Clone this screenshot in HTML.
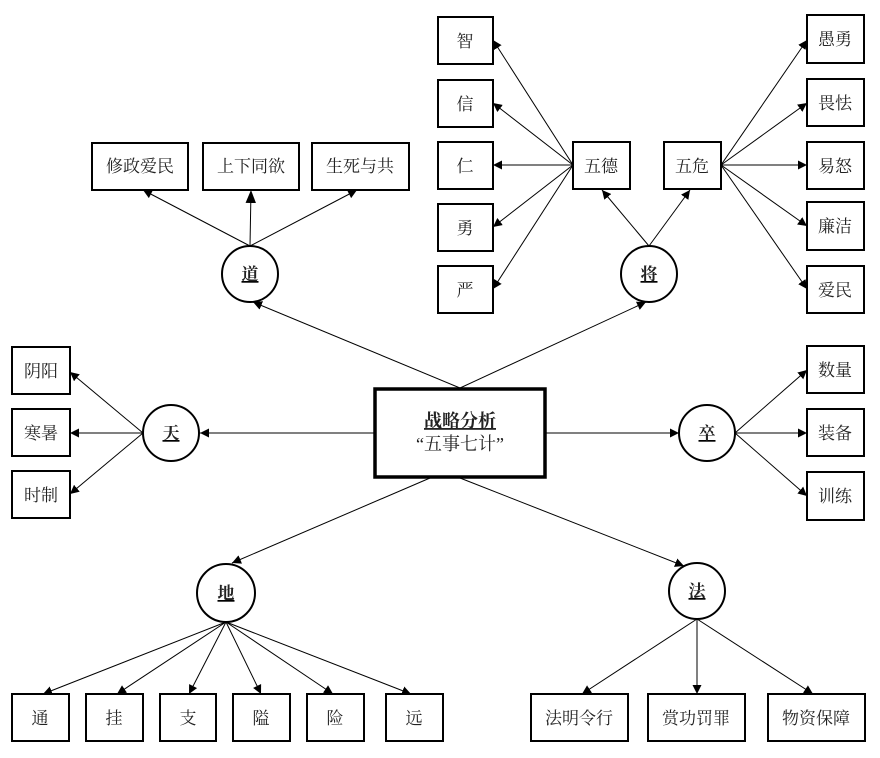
<!DOCTYPE html>
<html><head><meta charset="utf-8"><style>
html,body{margin:0;padding:0;background:#fff;}
svg{display:block;}
text{font-family:"Liberation Serif","Noto Serif CJK SC","Noto Sans CJK SC",serif;fill:#222;}
</style></head><body>
<svg width="880" height="758" viewBox="0 0 880 758" xmlns="http://www.w3.org/2000/svg">
<defs>
<marker id="a" viewBox="0 0 10 10" refX="10" refY="5" markerWidth="9" markerHeight="9" orient="auto" markerUnits="userSpaceOnUse"><path d="M0,0L10,5L0,10z" fill="#000"/></marker>
<marker id="b" viewBox="0 0 10 10" refX="10" refY="5" markerWidth="13" markerHeight="13" orient="auto" markerUnits="userSpaceOnUse"><path d="M0,1L10,5L0,9z" fill="#000"/></marker>
</defs>
<g stroke="#000" stroke-width="1" fill="none" marker-end="url(#a)">
<line x1="460" y1="388" x2="253" y2="302"/>
<line x1="460" y1="388" x2="646" y2="302"/>
<line x1="374" y1="433" x2="200" y2="433"/>
<line x1="546" y1="433" x2="679" y2="433"/>
<line x1="430" y1="478" x2="232" y2="563"/>
<line x1="460" y1="478" x2="684" y2="566"/>
<line x1="250" y1="246" x2="143" y2="190"/>
<line x1="250" y1="246" x2="251" y2="190" marker-end="url(#b)"/>
<line x1="250" y1="246" x2="357" y2="190"/>
<line x1="143" y1="433" x2="70" y2="372"/>
<line x1="143" y1="433" x2="70" y2="433"/>
<line x1="143" y1="433" x2="70" y2="494"/>
<line x1="649" y1="246" x2="602" y2="190"/>
<line x1="649" y1="246" x2="690" y2="190"/>
<line x1="573" y1="165" x2="493" y2="40"/>
<line x1="573" y1="165" x2="493" y2="103"/>
<line x1="573" y1="165" x2="493" y2="165"/>
<line x1="573" y1="165" x2="493" y2="227"/>
<line x1="573" y1="165" x2="493" y2="289"/>
<line x1="721" y1="165" x2="807" y2="40"/>
<line x1="721" y1="165" x2="807" y2="103"/>
<line x1="721" y1="165" x2="807" y2="165"/>
<line x1="721" y1="165" x2="807" y2="226"/>
<line x1="721" y1="165" x2="807" y2="289"/>
<line x1="735" y1="433" x2="807" y2="370"/>
<line x1="735" y1="433" x2="807" y2="433"/>
<line x1="735" y1="433" x2="807" y2="496"/>
<line x1="226" y1="622" x2="43" y2="694"/>
<line x1="226" y1="622" x2="117" y2="694"/>
<line x1="226" y1="622" x2="189" y2="694"/>
<line x1="226" y1="622" x2="261" y2="694"/>
<line x1="226" y1="622" x2="333" y2="694"/>
<line x1="226" y1="622" x2="411" y2="694"/>
<line x1="697" y1="619" x2="582" y2="694"/>
<line x1="697" y1="619" x2="697" y2="694"/>
<line x1="697" y1="619" x2="813" y2="694"/>
</g>
<g stroke="#000" stroke-width="2" fill="#fff">
<circle cx="250" cy="274" r="28"/>
<circle cx="649" cy="274" r="28"/>
<circle cx="171" cy="433" r="28"/>
<circle cx="707" cy="433" r="28"/>
<circle cx="226" cy="593" r="29"/>
<circle cx="697" cy="591" r="28"/>
<rect x="92" y="143" width="96" height="47"/>
<rect x="203" y="143" width="96" height="47"/>
<rect x="312" y="143" width="97" height="47"/>
<rect x="438" y="17" width="55" height="47"/>
<rect x="438" y="80" width="55" height="47"/>
<rect x="438" y="142" width="55" height="47"/>
<rect x="438" y="204" width="55" height="47"/>
<rect x="438" y="266" width="55" height="47"/>
<rect x="573" y="142" width="57" height="47"/>
<rect x="664" y="142" width="57" height="47"/>
<rect x="807" y="15" width="57" height="48"/>
<rect x="807" y="79" width="57" height="47"/>
<rect x="807" y="142" width="57" height="47"/>
<rect x="807" y="202" width="57" height="48"/>
<rect x="807" y="266" width="57" height="47"/>
<rect x="12" y="347" width="58" height="47"/>
<rect x="12" y="409" width="58" height="47"/>
<rect x="12" y="471" width="58" height="47"/>
<rect x="807" y="346" width="57" height="47"/>
<rect x="807" y="409" width="57" height="47"/>
<rect x="807" y="472" width="57" height="48"/>
<rect x="12" y="694" width="57" height="47"/>
<rect x="86" y="694" width="57" height="47"/>
<rect x="160" y="694" width="56" height="47"/>
<rect x="233" y="694" width="57" height="47"/>
<rect x="307" y="694" width="57" height="47"/>
<rect x="386" y="694" width="57" height="47"/>
<rect x="531" y="694" width="97" height="47"/>
<rect x="648" y="694" width="97" height="47"/>
<rect x="768" y="694" width="97" height="47"/>
<rect x="375" y="389" width="170" height="88" stroke-width="3.5"/>
</g>
<g font-size="17" text-anchor="middle">
<text x="140" y="172">修政爱民</text>
<text x="251" y="172">上下同欲</text>
<text x="360" y="172">生死与共</text>
<text x="465" y="47">智</text>
<text x="465" y="110">信</text>
<text x="465" y="172">仁</text>
<text x="465" y="234">勇</text>
<text x="465" y="296">严</text>
<text x="601" y="172">五德</text>
<text x="692" y="172">五危</text>
<text x="835" y="45">愚勇</text>
<text x="835" y="109">畏怯</text>
<text x="835" y="172">易怒</text>
<text x="835" y="232">廉洁</text>
<text x="835" y="296">爱民</text>
<text x="41" y="377">阴阳</text>
<text x="41" y="439">寒暑</text>
<text x="41" y="501">时制</text>
<text x="835" y="376">数量</text>
<text x="835" y="439">装备</text>
<text x="835" y="502">训练</text>
<text x="40" y="724">通</text>
<text x="114" y="724">挂</text>
<text x="188" y="724">支</text>
<text x="261" y="724">隘</text>
<text x="335" y="724">险</text>
<text x="414" y="724">远</text>
<text x="579" y="724">法明令行</text>
<text x="696" y="724">赏功罚罪</text>
<text x="816" y="724">物资保障</text>
<text x="460" y="427" font-size="18" font-weight="bold" text-decoration="underline">战略分析</text>
<text x="460" y="450" font-size="18">“五事七计”</text>
</g>
<g font-size="17" text-anchor="middle" font-weight="bold" text-decoration="underline">
<text x="250" y="280">道</text>
<text x="649" y="280">将</text>
<text x="171" y="439">天</text>
<text x="707" y="439">卒</text>
<text x="226" y="599">地</text>
<text x="697" y="597">法</text>
</g>
</svg>
</body></html>
